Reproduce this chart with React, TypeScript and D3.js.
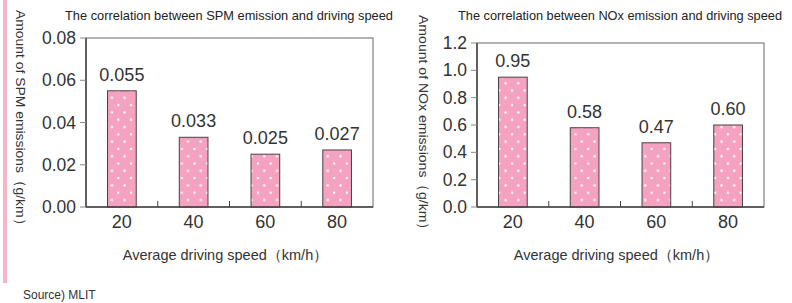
import React, { useEffect, useRef } from 'react';
import * as d3 from 'd3';

const speeds = ['20', '40', '60', '80'];
const spmValues = [0.055, 0.033, 0.025, 0.027];
const spmLabels = ['0.055', '0.033', '0.025', '0.027'];
const spmTicks = [0, 0.02, 0.04, 0.06, 0.08];
const noxValues = [0.95, 0.58, 0.47, 0.6];
const noxLabels = ['0.95', '0.58', '0.47', '0.60'];
const noxTicks = [0, 0.2, 0.4, 0.6, 0.8, 1.0, 1.2];

const FONT = '"Liberation Sans", Arial, Helvetica, sans-serif';
const TEXT = '#333';
const PINK = '#f4a2bf';

const drawPanel = (svg, opts) => {
  const { left, right, top, bottom, values, labels, ticks, yMax, fmt, title, titleX, titleLen, yTitle, yTitleX } = opts;
  const g = svg.append('g');

  const x = d3.scaleBand().domain(speeds).range([left, right]).paddingInner(0.6).paddingOuter(0.3);
  const y = d3.scaleLinear().domain([0, yMax]).range([bottom, top]);

  // frame
  g.append('rect')
    .attr('x', left).attr('y', top)
    .attr('width', right - left).attr('height', bottom - top)
    .attr('fill', 'none').attr('stroke', '#666').attr('stroke-width', 1);

  // bars
  g.selectAll('rect.bar')
    .data(values)
    .join('rect')
    .attr('class', 'bar')
    .attr('x', (d, i) => x(speeds[i]))
    .attr('y', d => y(d))
    .attr('width', x.bandwidth())
    .attr('height', d => bottom - y(d))
    .attr('fill', 'url(#dots)')
    .attr('stroke', '#4a4044')
    .attr('stroke-width', 1);

  // value labels
  g.selectAll('text.val')
    .data(values)
    .join('text')
    .attr('class', 'val')
    .attr('x', (d, i) => x(speeds[i]) + x.bandwidth() / 2)
    .attr('y', d => y(d) - 10)
    .attr('text-anchor', 'middle')
    .attr('font-size', 18)
    .attr('fill', TEXT)
    .text((d, i) => labels[i]);

  // axes lines
  g.append('line').attr('x1', left).attr('x2', left).attr('y1', top).attr('y2', bottom)
    .attr('stroke', '#444').attr('stroke-width', 1.5);
  g.append('line').attr('x1', left).attr('x2', right).attr('y1', bottom).attr('y2', bottom)
    .attr('stroke', '#444').attr('stroke-width', 1.5);

  // y ticks
  g.selectAll('line.yt')
    .data(ticks)
    .join('line')
    .attr('class', 'yt')
    .attr('x1', left - 6).attr('x2', left)
    .attr('y1', d => y(d)).attr('y2', d => y(d))
    .attr('stroke', '#888');
  g.selectAll('text.yl')
    .data(ticks)
    .join('text')
    .attr('class', 'yl')
    .attr('x', left - 10)
    .attr('y', d => y(d) + 6)
    .attr('text-anchor', 'end')
    .attr('font-size', 17.5)
    .attr('fill', TEXT)
    .text(d => fmt(d));

  // x separators
  g.selectAll('line.xt')
    .data(speeds.slice(1))
    .join('line')
    .attr('class', 'xt')
    .attr('x1', d => x(d) - x.step() * x.paddingInner() / 2)
    .attr('x2', d => x(d) - x.step() * x.paddingInner() / 2)
    .attr('y1', bottom).attr('y2', bottom - 6)
    .attr('stroke', '#444');

  g.selectAll('text.xl')
    .data(speeds)
    .join('text')
    .attr('class', 'xl')
    .attr('x', d => x(d) + x.bandwidth() / 2)
    .attr('y', bottom + 21)
    .attr('text-anchor', 'middle')
    .attr('font-size', 18)
    .attr('fill', TEXT)
    .text(d => d);

  g.append('text')
    .attr('x', (left + right) / 2 - 4)
    .attr('y', bottom + 53)
    .attr('text-anchor', 'middle')
    .attr('font-size', 14.5)
    .attr('fill', TEXT)
    .text('Average driving speed（km/h）');

  g.append('text')
    .attr('x', titleX)
    .attr('y', 20)
    .attr('font-size', 13)
    .attr('fill', '#222')
    .attr('textLength', titleLen)
    .attr('lengthAdjust', 'spacingAndGlyphs')
    .text(title);

  g.append('text')
    .attr('transform', `translate(${yTitleX}, ${top - 28}) rotate(90)`)
    .attr('font-size', 13.5)
    .attr('fill', TEXT)
    .attr('textLength', 222)
    .attr('lengthAdjust', 'spacingAndGlyphs')
    .text(yTitle);
};

const App = () => {
  const svgRef = useRef(null);

  useEffect(() => {
    const svg = d3.select(svgRef.current);
    svg.selectAll('*').remove();
    svg.attr('font-family', FONT);

    const defs = svg.append('defs');
    const pat = defs.append('pattern')
      .attr('id', 'dots')
      .attr('patternUnits', 'userSpaceOnUse')
      .attr('width', 12.7).attr('height', 14.6);
    pat.append('rect').attr('width', 12.7).attr('height', 14.6).attr('fill', PINK);
    pat.append('circle').attr('cx', 4).attr('cy', 3).attr('r', 1.2).attr('fill', '#fff');
    pat.append('circle').attr('cx', 10.3).attr('cy', 10.3).attr('r', 1.2).attr('fill', '#fff');

    svg.append('rect').attr('x', 3).attr('y', 0).attr('width', 4).attr('height', 283).attr('fill', '#f6b4c6');

    drawPanel(svg, {
      left: 86, right: 373, top: 38, bottom: 207,
      values: spmValues, labels: spmLabels, ticks: spmTicks, yMax: 0.08,
      fmt: d3.format('.2f'),
      title: 'The correlation between SPM emission and driving speed', titleX: 65, titleLen: 328,
      yTitle: 'Amount of SPM emissions（g/km）', yTitleX: 16,
    });

    drawPanel(svg, {
      left: 477, right: 764, top: 43, bottom: 207,
      values: noxValues, labels: noxLabels, ticks: noxTicks, yMax: 1.2,
      fmt: d3.format('.1f'),
      title: 'The correlation between NOx emission and driving speed', titleX: 458, titleLen: 324,
      yTitle: 'Amount of NOx emissions（g/km）', yTitleX: 419,
    });

    svg.append('text')
      .attr('x', 23).attr('y', 299)
      .attr('font-size', 12)
      .attr('fill', TEXT)
      .text('Source) MLIT');
  }, []);

  return (
    <svg ref={svgRef} width={792} height={303} style={{ position: 'absolute', left: 0, top: 0, background: '#fff' }}></svg>
  );
};

export default App;
